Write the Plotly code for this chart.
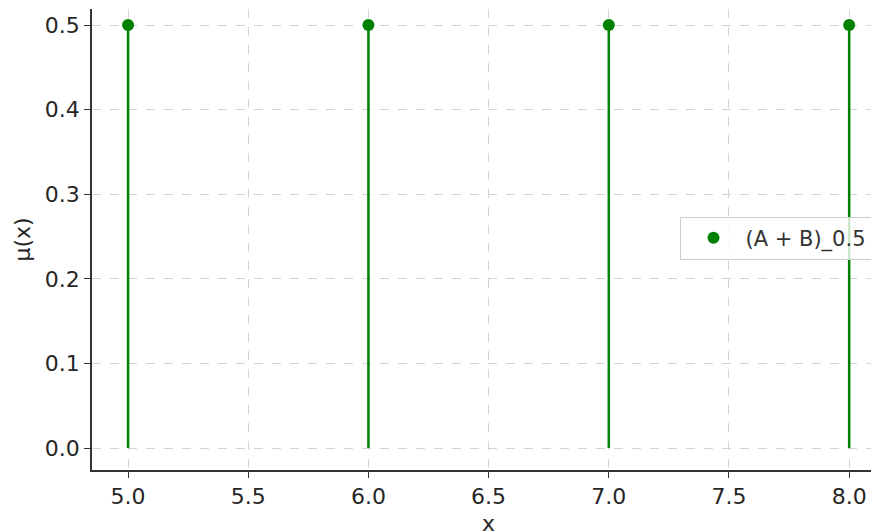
import plotly.graph_objects as go

x_vals = [5.0, 6.0, 7.0, 8.0]
mu_vals = [0.5, 0.5, 0.5, 0.5]
series_name = "(A + B)_0.5"
x_ticks = [5.0, 5.5, 6.0, 6.5, 7.0, 7.5, 8.0]
y_ticks = [0.0, 0.1, 0.2, 0.3, 0.4, 0.5]
x_label = "x"
y_label = "µ(x)"

GREEN = "#008000"
stem_x, stem_y = [], []
for xv, yv in zip(x_vals, mu_vals):
    stem_x += [xv, xv, None]
    stem_y += [0, yv, None]

fig = go.Figure()
fig.add_trace(go.Scatter(x=stem_x, y=stem_y, mode="lines",
                         line=dict(color=GREEN, width=2.5),
                         showlegend=False, hoverinfo="skip"))
fig.add_trace(go.Scatter(x=x_vals, y=mu_vals, mode="markers",
                         marker=dict(color=GREEN, size=12),
                         name=series_name))

font = "DejaVu Sans"
fig.update_layout(
    width=871, height=524,
    margin=dict(l=84, r=1, t=1, b=62),
    paper_bgcolor="white", plot_bgcolor="white",
    font=dict(family=font, color="#262626"),
    legend=dict(x=0.993, xanchor="right", y=0.503, yanchor="middle",
                itemwidth=54,
                bordercolor="#cccccc", borderwidth=1, bgcolor="rgba(255,255,255,0.8)",
                font=dict(size=21, family=font, color="#333333")),
)
fig.add_annotation(text=x_label, xref="paper", yref="paper", x=0.505, y=-0.117,
                   xanchor="center", yanchor="middle", showarrow=False,
                   font=dict(size=22, family=font, color="#262626"))
fig.update_xaxes(range=[4.85, 8.12], tickvals=x_ticks,
                 ticktext=[f"{v:.1f}" for v in x_ticks],
                 tickfont=dict(size=22), ticks="outside", ticklen=6, tickcolor="#333333",
                 showline=True, linecolor="#333333", linewidth=1.5,
                 showgrid=True, gridcolor="#d3d3d3", griddash="dash", gridwidth=1,
                 zeroline=False, automargin=False)
fig.update_yaxes(range=[-0.026, 0.519], tickvals=y_ticks,
                 ticktext=[f"{v:.1f}" for v in y_ticks],
                 tickfont=dict(size=22), ticks="outside", ticklen=6, tickcolor="#333333",
                 showline=True, linecolor="#333333", linewidth=1.5,
                 showgrid=True, gridcolor="#d3d3d3", griddash="dash", gridwidth=1,
                 zeroline=False, automargin=False,
                 title=dict(text=y_label, font=dict(size=22), standoff=8))

fig.write_html("out.html")
